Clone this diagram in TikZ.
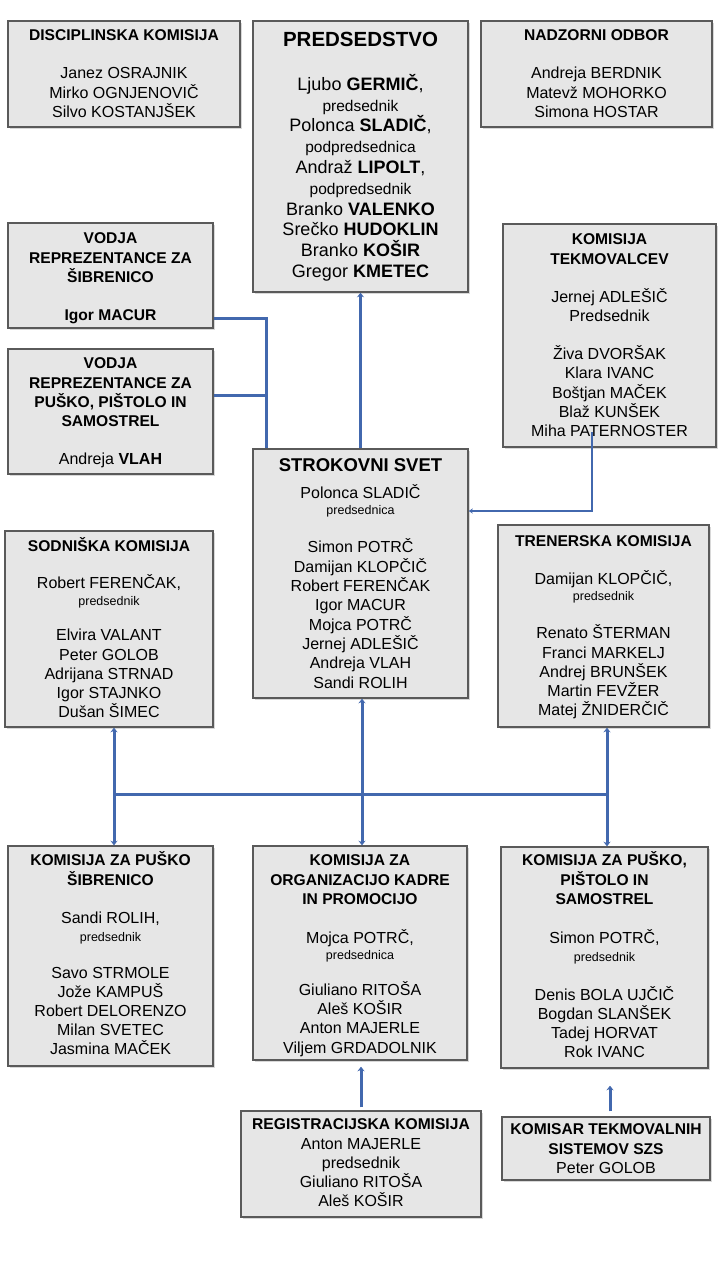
\documentclass[tikz,border=0pt]{standalone}
\usepackage{fontspec}
\setmainfont{Liberation Sans}
\usetikzlibrary{arrows.meta,shadows}
\definecolor{boxfill}{HTML}{E6E6E6}
\definecolor{boxline}{HTML}{5A5A5A}
\definecolor{conn}{RGB}{66,104,174}
\newcommand\ttl{\fontsize{15.6}{19.2}\selectfont\bfseries}
\newcommand\nm{\fontsize{16}{19.2}\selectfont}
\newcommand\smt{\fontsize{12.5}{19.2}\selectfont}
\newcommand\psub{\fontsize{15.5}{20.8}\selectfont}
\newcommand\tstr{\rule{0pt}{16pt}}
\begin{document}
\begin{tikzpicture}[x=1pt,y=-1pt,
  orgbox/.style={draw=boxline, line width=1.5pt, fill=boxfill, inner sep=0pt,
    drop shadow={shadow xshift=1.5pt,shadow yshift=-1.5pt,opacity=0.3}},
  orgtext/.style={anchor=north, align=center, inner sep=0pt, font=\nm, text=black},
  link/.style={draw=conn, line width=3pt},
  thinlink/.style={draw=conn, line width=1.6pt},
  tipend/.style={-{Stealth[length=4.5pt,width=7pt]}},
  tipboth/.style={{Stealth[length=4.5pt,width=7pt]}-{Stealth[length=4.5pt,width=7pt]}}
]
\fill[white] (0,0) rectangle (720,1280);
\useasboundingbox (0,0) rectangle (720,1280);

% ---------- boxes ----------
\node[orgbox, minimum width=232pt, minimum height=106pt] (disc) at (124,74) {};
\node[orgbox, minimum width=215pt, minimum height=271pt] (pred) at (360.5,156.5) {};
\node[orgbox, minimum width=231pt, minimum height=106pt] (nadz) at (596.5,74) {};
\node[orgbox, minimum width=205pt, minimum height=105pt] (vsib) at (110.5,275.5) {};
\node[orgbox, minimum width=205pt, minimum height=125pt] (vpus) at (110.5,411.5) {};
\node[orgbox, minimum width=213pt, minimum height=223pt] (ktek) at (609.5,335.5) {};
\node[orgbox, minimum width=215pt, minimum height=249pt] (strok) at (360.5,573.5) {};
\node[orgbox, minimum width=208pt, minimum height=196pt] (sodn) at (109,629) {};
\node[orgbox, minimum width=211pt, minimum height=202pt] (tren) at (603.5,626) {};
\node[orgbox, minimum width=205pt, minimum height=220pt] (kpsib) at (110.5,956) {};
\node[orgbox, minimum width=214pt, minimum height=214pt] (korg) at (360,953) {};
\node[orgbox, minimum width=207pt, minimum height=221pt] (kpp) at (604.5,957.5) {};
\node[orgbox, minimum width=240pt, minimum height=106pt] (reg) at (361,1164) {};
\node[orgbox, minimum width=208pt, minimum height=63pt] (komis) at (606,1148.5) {};

% ---------- texts ----------
\node[orgtext] (discT) at (124,24.6) {{\ttl\tstr DISCIPLINSKA KOMISIJA}\\[18.9pt]
  Janez OSRAJNIK\\ Mirko OGNJENOVIČ\\ Silvo KOSTANJŠEK};

\node[orgtext] (nadzT) at (596.5,24.6) {{\ttl\tstr NADZORNI ODBOR}\\[18.9pt]
  Andreja BERDNIK\\ Matevž MOHORKO\\ Simona HOSTAR};

\node[orgtext, font=\fontsize{18}{20.8}\selectfont] (predT) at (360.5,30)
  {{\fontsize{20.5}{20.8}\selectfont\bfseries\tstr PREDSEDSTVO}\\[23.2pt]
  Ljubo \textbf{GERMIČ},\\ {\psub predsednik}\\
  Polonca \textbf{SLADIČ},\\ {\psub podpredsednica}\\
  Andraž \textbf{LIPOLT},\\ {\psub podpredsednik}\\
  Branko \textbf{VALENKO}\\ Srečko \textbf{HUDOKLIN}\\
  Branko \textbf{KOŠIR}\\ Gregor \textbf{KMETEC}};

\node[orgtext] (vsibT) at (110.5,227.6) {{\ttl\tstr VODJA}\\ {\ttl REPREZENTANCE ZA}\\ {\ttl ŠIBRENICO}\\[19pt]
  {\ttl Igor MACUR}};

\node[orgtext] (vpusT) at (110.5,352.6) {{\ttl\tstr VODJA}\\ {\ttl REPREZENTANCE ZA}\\ {\ttl PUŠKO, PIŠTOLO IN}\\ {\ttl SAMOSTREL}\\[19pt]
  Andreja \textbf{VLAH}};

\node[orgtext] (ktekT) at (609.5,228.6) {{\ttl\tstr KOMISIJA}\\ {\ttl TEKMOVALCEV}\\[19pt]
  Jernej ADLEŠIČ\\ Predsednik\\[19pt]
  Živa DVORŠAK\\ Klara IVANC\\ Boštjan MAČEK\\ Blaž KUNŠEK\\ Miha PATERNOSTER};

\node[orgtext, font=\fontsize{16}{19.3}\selectfont] (strokT) at (360.5,455.5)
  {{\fontsize{18.5}{19.3}\selectfont\bfseries\tstr STROKOVNI SVET}\\[7.9pt]
  Polonca SLADIČ\\[-3.5pt] {\smt predsednica}\\[18.9pt]
  Simon POTRČ\\ Damijan KLOPČIČ\\ Robert FERENČAK\\ Igor MACUR\\
  Mojca POTRČ\\ Jernej ADLEŠIČ\\ Andreja VLAH\\ Sandi ROLIH};

\node[orgtext] (sodnT) at (109,535.6) {{\ttl\tstr SODNIŠKA KOMISIJA}\\[17.9pt]
  Robert FERENČAK,\\[-2.4pt] {\smt predsednik}\\[16pt]
  Elvira VALANT\\ Peter GOLOB\\ Adrijana STRNAD\\ Igor STAJNKO\\ Dušan ŠIMEC};

\node[orgtext] (trenT) at (603.5,530.6) {{\ttl\tstr TRENERSKA KOMISIJA}\\[18.9pt]
  Damijan KLOPČIČ,\\[-3.4pt] {\smt predsednik}\\[19pt]
  Renato ŠTERMAN\\ Franci MARKELJ\\ Andrej BRUNŠEK\\ Martin FEVŽER\\ Matej ŽNIDERČIČ};

\node[orgtext] (kpsibT) at (110.5,849.6) {{\ttl\tstr KOMISIJA ZA PUŠKO}\\ {\ttl ŠIBRENICO}\\[18.9pt]
  Sandi ROLIH,\\[-0.4pt] {\smt predsednik}\\[17pt]
  Savo STRMOLE\\ Jože KAMPUŠ\\ Robert DELORENZO\\ Milan SVETEC\\ Jasmina MAČEK};

\node[orgtext] (korgT) at (360,849.6) {{\ttl\tstr KOMISIJA ZA}\\ {\ttl ORGANIZACIJO KADRE}\\ {\ttl IN PROMOCIJO}\\[20pt]
  Mojca POTRČ,\\[-3.4pt] {\smt predsednica}\\[17pt]
  Giuliano RITOŠA\\ Aleš KOŠIR\\ Anton MAJERLE\\ Viljem GRDADOLNIK};

\node[orgtext] (kppT) at (604.5,849.6) {{\ttl\tstr KOMISIJA ZA PUŠKO,}\\ {\ttl PIŠTOLO IN}\\ {\ttl SAMOSTREL}\\[19.7pt]
  Simon POTRČ,\\[-0.4pt] {\smt predsednik}\\[19pt]
  Denis BOLA UJČIČ\\ Bogdan SLANŠEK\\ Tadej HORVAT\\ Rok IVANC};

\node[orgtext] (regT) at (361,1113.6) {{\ttl\tstr REGISTRACIJSKA KOMISIJA}\\
  Anton MAJERLE\\ predsednik\\ Giuliano RITOŠA\\ Aleš KOŠIR};

\node[orgtext] (komisT) at (606,1118.6) {{\ttl\tstr KOMISAR TEKMOVALNIH}\\ {\ttl SISTEMOV SZS}\\
  Peter GOLOB};

% ---------- connectors ----------
\draw[link, tipend] (strok.north) -- (pred.south);

\coordinate (vj1) at (266,318);
\coordinate (vj2) at (266,395);
\draw[link] (vsib.east |- vj1) -- (vj1) -- (vj1 |- strok.north);
\draw[link] (vpus.east |- vj2) -- (vj2);

\coordinate (kt1) at (592,432);
\coordinate (kt2) at (592,511);
\draw[thinlink, -{Stealth[length=4pt,width=5pt]}] (kt1) -- (kt2) -- (kt2 -| strok.east);

\coordinate (h1) at (114,794);
\coordinate (h2) at (362,794);
\coordinate (h3) at (607,794);
\draw[link] (h1) -- (h3);
\draw[link, tipboth] (sodn.south -| h1) -- (kpsib.north -| h1);
\draw[link, tipboth] (strok.south -| h2) -- (korg.north -| h2);
\draw[link, tipboth] (tren.south -| h3) -- (kpp.north -| h3);

\draw[link, tipend, shorten <=3pt, shorten >=6pt] (reg.north) -- (reg.north |- korg.south);
\coordinate (kc) at (610,1100);
\draw[link, tipend, shorten <=5pt, shorten >=17pt] (komis.north -| kc) -- (kpp.south -| kc);
\end{tikzpicture}
\end{document}
